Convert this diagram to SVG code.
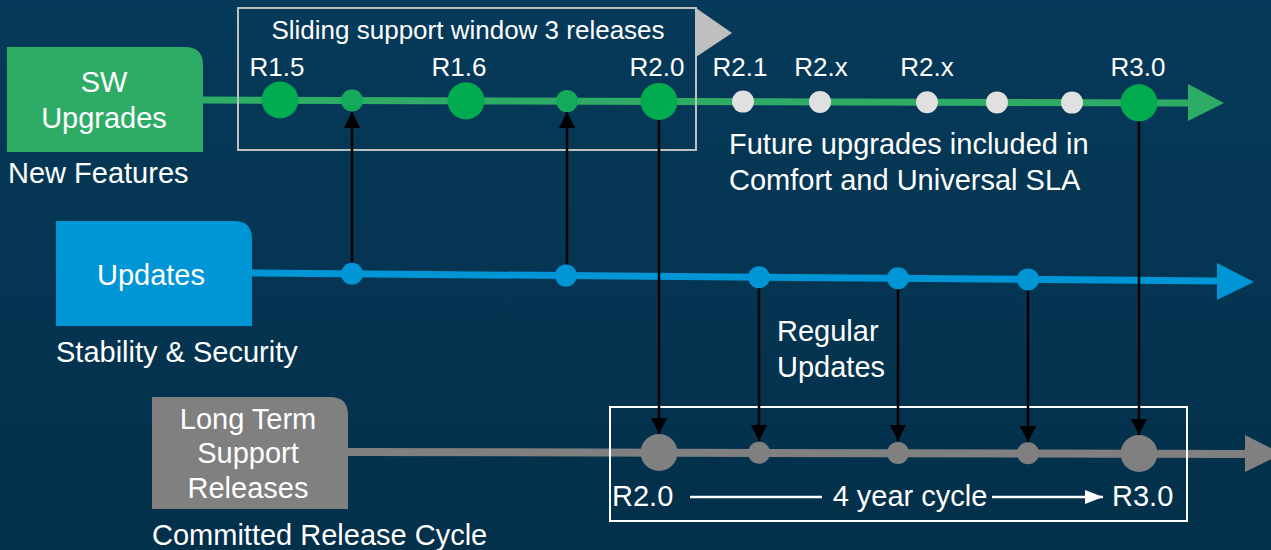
<svg xmlns="http://www.w3.org/2000/svg" width="1271" height="550" viewBox="0 0 1271 550">
  <defs>
    <linearGradient id="bg" x1="0" y1="0" x2="0" y2="1">
      <stop offset="0" stop-color="#063a5a"/>
      <stop offset="1" stop-color="#03304a"/>
    </linearGradient>
    <marker id="blackHead" viewBox="0 0 16 16" refX="16" refY="8" markerWidth="16" markerHeight="16" markerUnits="userSpaceOnUse" orient="auto">
      <path d="M0,0 L16,8 L0,16 Z" fill="#000"/>
    </marker>
    <marker id="whiteHead" viewBox="0 0 18 14" refX="18" refY="7" markerWidth="18" markerHeight="14" markerUnits="userSpaceOnUse" orient="auto">
      <path d="M0,0 L18,7 L0,14 Z" fill="#fff"/>
    </marker>
  </defs>
  <style>
    text { font-family: "Liberation Sans", Arial, sans-serif; fill: #ffffff; }
    .big { font-size: 29px; }
    .rel { font-size: 26px; text-anchor: middle; }
    .mid { text-anchor: middle; }
    .conn { stroke: #000; stroke-width: 2.5; fill: none; marker-end: url(#blackHead); }
    .gdot { fill: #00ac4f; }
    .sgdot { fill: #14aa5a; }
    .wdot { fill: #e0e0e0; }
    .bdot { fill: #0095d5; }
    .ydot { fill: #808080; }
  </style>

  <rect width="1271" height="550" fill="url(#bg)"/>

  <!-- timelines -->
  <g id="timelines">
    <line x1="203" y1="100" x2="1192" y2="103" stroke="#2eac66" stroke-width="7"/>
    <path d="M1188,84 L1224,103 L1188,121 Z" fill="#2eac66"/>
    <line x1="252" y1="273" x2="1220" y2="281" stroke="#0095d5" stroke-width="7"/>
    <path d="M1217,263 L1254,282 L1217,300 Z" fill="#0095d5"/>
    <line x1="348" y1="452" x2="1248" y2="454" stroke="#808080" stroke-width="8"/>
    <path d="M1245,435 L1282,454 L1245,472 Z" fill="#808080"/>
  </g>

  <!-- sliding support window -->
  <g id="sliding-window">
    <rect x="238" y="8" width="458" height="142" fill="none" stroke="#bfbfbf" stroke-width="2"/>
    <path d="M696,8 L732,33 L696,57 Z" fill="#bfbfbf"/>
    <text class="mid" x="468" y="39" style="font-size:26px">Sliding support window 3 releases</text>
  </g>

  <!-- long term cycle window -->
  <g id="cycle-window">
    <rect x="610" y="407" width="577" height="114" fill="none" stroke="#ffffff" stroke-width="2"/>
    <text class="big" x="612" y="506">R2.0</text>
    <text class="big mid" x="910" y="506">4 year cycle</text>
    <text class="big" x="1112" y="506">R3.0</text>
    <line x1="690" y1="497" x2="822" y2="497" stroke="#fff" stroke-width="2.5"/>
    <line x1="992" y1="497" x2="1103" y2="497" stroke="#fff" stroke-width="2.5" marker-end="url(#whiteHead)"/>
  </g>

  <!-- connectors -->
  <g id="connectors">
    <line class="conn" x1="352" y1="274" x2="352" y2="112"/>
    <line class="conn" x1="567" y1="276" x2="567" y2="112"/>
    <line class="conn" x1="659" y1="101" x2="659" y2="434"/>
    <line class="conn" x1="759" y1="277" x2="759" y2="441"/>
    <line class="conn" x1="898" y1="278" x2="898" y2="441"/>
    <line class="conn" x1="1028" y1="279" x2="1028" y2="442"/>
    <line class="conn" x1="1139" y1="103" x2="1139" y2="435"/>
  </g>

  <!-- SW upgrade releases -->
  <g id="sw-releases">
    <circle class="gdot" cx="280" cy="100" r="18.5"/>
    <circle class="sgdot" cx="352" cy="100.5" r="11"/>
    <circle class="gdot" cx="466" cy="100.8" r="18.5"/>
    <circle class="sgdot" cx="567" cy="101.1" r="11"/>
    <circle class="gdot" cx="659" cy="101.4" r="18.5"/>
    <circle class="wdot" cx="743" cy="101.6" r="11"/>
    <circle class="wdot" cx="820" cy="101.9" r="11"/>
    <circle class="wdot" cx="927" cy="102.2" r="11"/>
    <circle class="wdot" cx="997" cy="102.4" r="11"/>
    <circle class="wdot" cx="1072" cy="102.6" r="11"/>
    <circle class="gdot" cx="1139" cy="102.8" r="18.5"/>
    <text class="rel" x="277" y="76">R1.5</text>
    <text class="rel" x="459" y="76">R1.6</text>
    <text class="rel" x="657" y="76">R2.0</text>
    <text class="rel" x="740" y="76">R2.1</text>
    <text class="rel" x="821" y="76">R2.x</text>
    <text class="rel" x="927" y="76">R2.x</text>
    <text class="rel" x="1138" y="76">R3.0</text>
    <text class="big" x="729" y="154">Future upgrades included in</text>
    <text class="big" x="729" y="190">Comfort and Universal SLA</text>
  </g>

  <!-- update points -->
  <g id="update-points">
    <circle class="bdot" cx="352" cy="273.8" r="11"/>
    <circle class="bdot" cx="566" cy="275.6" r="11"/>
    <circle class="bdot" cx="759" cy="277.2" r="11"/>
    <circle class="bdot" cx="898" cy="278.3" r="11"/>
    <circle class="bdot" cx="1028" cy="279.4" r="11"/>
    <text class="big" x="777" y="341">Regular</text>
    <text class="big" x="777" y="377">Updates</text>
  </g>

  <!-- long term support points -->
  <g id="lts-points">
    <circle class="ydot" cx="659" cy="452.5" r="18.5"/>
    <circle class="ydot" cx="759" cy="452.7" r="11"/>
    <circle class="ydot" cx="898" cy="453" r="11"/>
    <circle class="ydot" cx="1028" cy="453.3" r="11"/>
    <circle class="ydot" cx="1139" cy="453.5" r="18.5"/>
  </g>

  <!-- SW Upgrades node -->
  <g id="node-sw-upgrades">
    <path d="M7,47 H185 Q203,47 203,65 V152 H7 Z" fill="#2eac66"/>
    <text class="big mid" x="104" y="92">SW</text>
    <text class="big mid" x="104" y="128">Upgrades</text>
    <text class="big" x="8" y="183">New Features</text>
  </g>

  <!-- Updates node -->
  <g id="node-updates">
    <path d="M56,221 H234 Q252,221 252,239 V326 H56 Z" fill="#0095d5"/>
    <text class="big mid" x="151" y="285">Updates</text>
    <text class="big" x="56" y="362">Stability &amp; Security</text>
  </g>

  <!-- Long Term Support node -->
  <g id="node-lts">
    <path d="M152,397 H330 Q348,397 348,415 V509 H152 Z" fill="#808080"/>
    <text class="big mid" x="248" y="429">Long Term</text>
    <text class="big mid" x="248" y="463">Support</text>
    <text class="big mid" x="248" y="498">Releases</text>
    <text class="big" x="152" y="545">Committed Release Cycle</text>
  </g>
</svg>
